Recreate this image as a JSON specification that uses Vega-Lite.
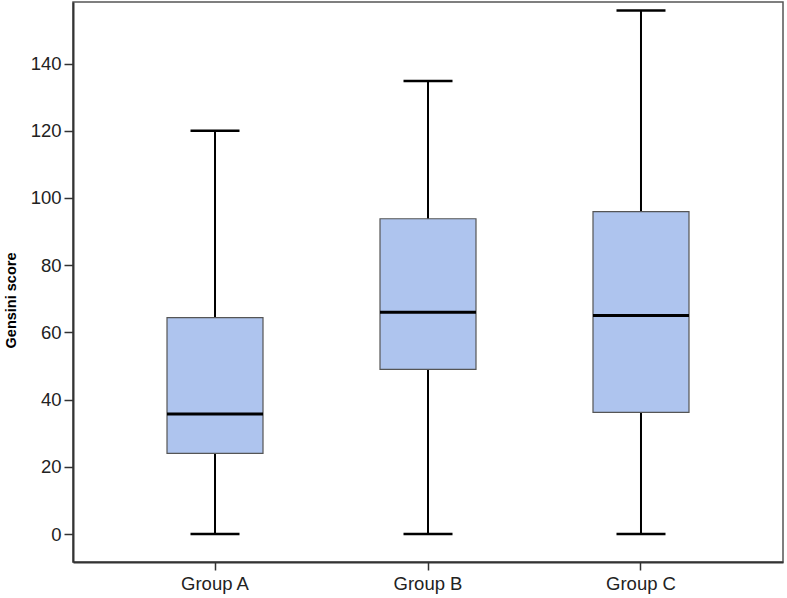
{
  "$schema": "https://vega.github.io/schema/vega-lite/v6.json",
  "width": 710,
  "height": 560,
  "autosize": "none",
  "padding": {"left": 73, "top": 2, "right": 4, "bottom": 36},
  "background": "white",
  "config": {
    "view": {"stroke": "#555555", "strokeWidth": 1.5},
    "font": "Liberation Sans"
  },
  "data": {
    "values": [
      {"group": "Group A", "lower": 0, "q1": 24, "median": 35.7, "q3": 64.4, "upper": 120},
      {"group": "Group B", "lower": 0, "q1": 49, "median": 66, "q3": 93.8, "upper": 134.8},
      {"group": "Group C", "lower": 0, "q1": 36.2, "median": 65, "q3": 95.9, "upper": 155.8}
    ]
  },
  "encoding": {
    "x": {
      "field": "group",
      "type": "nominal",
      "scale": {"paddingInner": 0, "paddingOuter": 0.1667},
      "axis": {
        "title": null,
        "labelAngle": 0,
        "labelFontSize": 18.5,
        "labelColor": "#222222",
        "labelPadding": 4,
        "tickSize": 8,
        "tickColor": "#333333",
        "tickWidth": 1.5,
        "domainColor": "#333333",
        "domainWidth": 2
      }
    }
  },
  "layer": [
    {
      "mark": {"type": "rule", "color": "black", "strokeWidth": 2},
      "encoding": {
        "y": {
          "field": "lower",
          "type": "quantitative",
          "scale": {"domain": [-8.33, 158.3], "nice": false, "zero": false},
          "axis": {
            "title": "Gensini score",
            "titleFontSize": 14.5,
            "titleFontWeight": "bold",
            "titleColor": "black",
            "titlePadding": 12,
            "titleY": 298,
            "values": [0, 20, 40, 60, 80, 100, 120, 140],
            "grid": false,
            "labelFontSize": 18.5,
            "labelColor": "#222222",
            "labelPadding": 3,
            "tickSize": 9,
            "tickColor": "#333333",
            "tickWidth": 1.5,
            "domainColor": "#333333",
            "domainWidth": 2
          }
        },
        "y2": {"field": "upper"}
      }
    },
    {
      "mark": {"type": "tick", "color": "black", "opacity": 1, "size": 49, "thickness": 2.5, "orient": "horizontal"},
      "encoding": {"y": {"field": "lower", "type": "quantitative"}}
    },
    {
      "mark": {"type": "tick", "color": "black", "opacity": 1, "size": 49, "thickness": 2.5, "orient": "horizontal"},
      "encoding": {"y": {"field": "upper", "type": "quantitative"}}
    },
    {
      "mark": {"type": "bar", "size": 96, "fill": "#aec4ee", "opacity": 1, "stroke": "#555555", "strokeWidth": 1.2},
      "encoding": {
        "y": {"field": "q1", "type": "quantitative"},
        "y2": {"field": "q3"}
      }
    },
    {
      "mark": {"type": "tick", "color": "black", "opacity": 1, "size": 96, "thickness": 3, "orient": "horizontal"},
      "encoding": {"y": {"field": "median", "type": "quantitative"}}
    }
  ]
}
